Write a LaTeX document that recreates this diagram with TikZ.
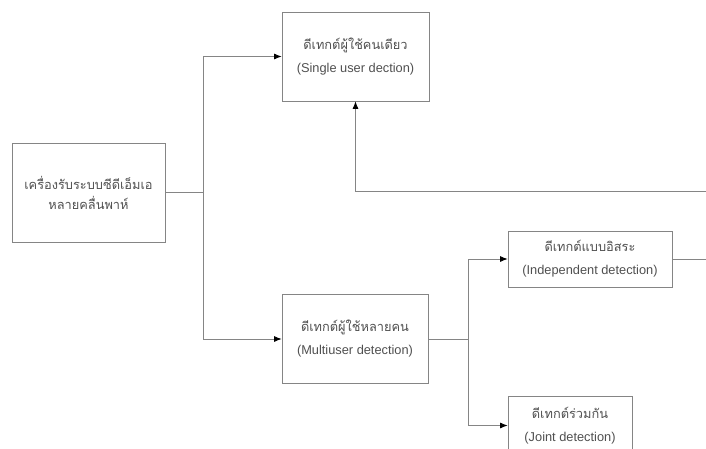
\documentclass[tikz,border=0pt]{standalone}
\usepackage{fontspec}
\setmainfont{Liberation Sans}
\newfontfamily\thaifont[Script=Thai]{Loma}
\usetikzlibrary{arrows.meta}
\definecolor{linegray}{HTML}{858585}
\definecolor{textgray}{HTML}{505050}
\tikzset{
  block/.style={draw=linegray, line width=0.8pt, fill=white, text=textgray,
    align=center, inner sep=0pt,
    font=\fontsize{12.8}{23}\selectfont},
  wire/.style={draw=linegray, line width=0.8pt},
  feed/.style={wire, -{Latex[length=7.5pt,width=6pt,color=black]}},
}
\newcommand{\thtext}[1]{{\thaifont #1}}
\begin{document}
\begin{tikzpicture}[x=1pt,y=-1pt]
  \clip (0,0) rectangle (706,448);
  \fill[white] (0,0) rectangle (706,448);

  % detector blocks
  \node[block, minimum width=153, minimum height=99,
        font=\fontsize{12.8}{20}\selectfont] (rx) at (88.5,192.5)
    {\thtext{เครื่องรับระบบซีดีเอ็มเอ}\\\thtext{หลายคลื่นพาห์}};
  \node[block, minimum width=147, minimum height=89] (single) at (355.5,56.5)
    {\thtext{ดีเทกต์ผู้ใช้คนเดียว}\\(Single user dection)};
  \node[block, minimum width=146, minimum height=89] (multi) at (355,339)
    {\thtext{ดีเทกต์ผู้ใช้หลายคน}\\(Multiuser detection)};
  \node[block, minimum width=164, minimum height=56] (indep) at (590,259)
    {\thtext{ดีเทกต์แบบอิสระ}\\(Independent detection)};
  \node[block, minimum width=124, minimum height=59] (joint) at (570,425.5)
    {\thtext{ดีเทกต์ร่วมกัน}\\(Joint detection)};

  % branch points and free ends
  \coordinate (split1) at (203,192.5);
  \coordinate (split2) at (468,339);
  \coordinate (back) at (706,191);
  \coordinate (out) at (706,259);

  % receiver splits into single-user and multiuser detection
  \draw[wire] (rx.east) -- (split1);
  \draw[feed] (split1) |- (single.west);
  \draw[feed] (split1) |- (multi.west);

  % feedback into single-user detection
  \draw[feed] (back) -| (single.south);

  % multiuser detection splits into independent and joint detection
  \draw[wire] (multi.east) -- (split2);
  \draw[feed] (split2) |- (indep.west);
  \draw[feed] (split2) |- (joint.west);
  \draw[wire] (indep.east) -- (out);
\end{tikzpicture}
\end{document}
